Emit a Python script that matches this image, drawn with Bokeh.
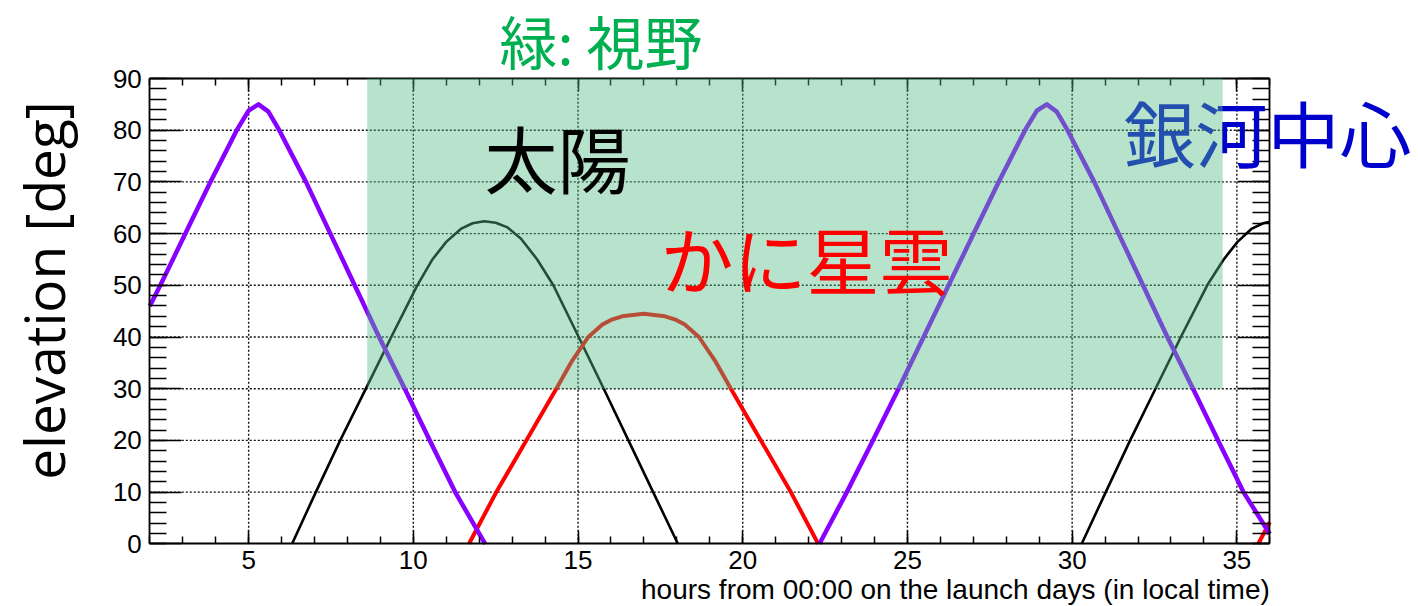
import math
from bokeh.plotting import figure
from bokeh.models import Range1d, LinearAxis, SingleIntervalTicker, BoxAnnotation, Label
from bokeh.embed import file_html
from bokeh.resources import INLINE

nan = float("nan")

# ---- data (hours, elevation in deg); NaN = below-horizon gap ----
gc_hours = [2.0, 2.32, 3.08, 3.84, 4.64, 5.0, 5.3, 5.6, 5.93, 6.74, 7.48, 8.22, 8.96, 9.74,
            10.5, 11.27, 12.18, nan,
            22.33, 23.16, 23.95, 24.73, 25.49, 26.25, 27.01, 27.77, 28.57, 28.93, 29.23, 29.53,
            29.86, 30.67, 31.41, 32.15, 32.89, 33.67, 34.43, 35.2, 36.0]
gc_elev = [46, 50, 60, 70, 80, 83.8, 85, 83.6, 80, 70, 60, 50, 40, 30,
           20, 10, 0, nan,
           0, 10, 20, 30, 40, 50, 60, 70, 80, 83.8, 85, 83.6,
           80, 70, 60, 50, 40, 30, 20, 10, 1.9]

sun_hours = [6.32, 7.04, 7.78, 8.56, 9.33, 10.12, 10.58, 11.0, 11.44, 11.8, 12.15, 12.5, 12.86,
             13.27, 13.76, 14.25, 15.02, 15.78, 16.53, 17.28, 18.03, nan,
             30.29, 31.02, 31.76, 32.53, 33.3, 34.1, 34.6, 35.02, 35.44, 35.8, 36.0]
sun_elev = [0, 10, 20, 30, 40, 50, 55, 58.4, 60.9, 62.0, 62.4, 62.1, 61.2,
            59.0, 55, 50, 40, 30, 20, 10, 0, nan,
            0, 10, 20, 30, 40, 50, 55, 58.4, 60.9, 62.0, 62.3]

crab_hours = [11.69, 12.52, 13.43, 14.34, 14.82, 15.31, 15.74, 16.0, 16.34, 16.99, 17.64, 17.98,
              18.24, 18.67, 19.16, 19.64, 20.55, 21.46, 22.29, nan, 35.65, 36.0]
crab_elev = [0, 10, 20, 30, 35.4, 40, 42.4, 43.3, 44.0, 44.5, 44.0, 43.3,
             42.4, 40, 35.4, 30, 20, 10, 0, nan, 0, 4.2]

# field of view region (green)
fov_start, fov_end = 8.6, 34.57
fov_min_elev, fov_max_elev = 30, 90

# axes
x_min, x_max = 2, 36
y_min, y_max = 0, 90
x_grid_ticks = [5, 10, 15, 20, 25, 30, 35]
y_grid_ticks = [10, 20, 30, 40, 50, 60, 70, 80]

x_title = "hours from 00:00 on the launch days (in local time)"
y_title = "elevation [deg]"

# ---- layout: the frame covers the whole canvas; the plot box is drawn by fixed axes ----
W, H = 1418, 606
box_left_px, box_right_px = 149.3, 1269.3
box_top_px, box_bottom_px = 78.0, 543.3
sx = (box_right_px - box_left_px) / (x_max - x_min)
sy = (box_bottom_px - box_top_px) / (y_max - y_min)
xr = Range1d(x_min - box_left_px / sx, x_max + (W - box_right_px) / sx)
yr = Range1d(y_min - (H - box_bottom_px) / sy, y_max + box_top_px / sy)


def dx(px):
    return xr.start + px / sx


def dy(py):
    return yr.end - py / sy


p = figure(width=W, height=H, x_range=xr, y_range=yr,
           output_backend="svg", toolbar_location=None,
           min_border_left=0, min_border_right=0, min_border_top=0, min_border_bottom=0)
p.background_fill_color = "white"
p.border_fill_color = "white"
p.outline_line_color = None
p.xgrid.visible = False
p.ygrid.visible = False

xt = SingleIntervalTicker(interval=5, num_minor_ticks=5)
yt = SingleIntervalTicker(interval=10, num_minor_ticks=5)
TICK_FONT = "Liberation Sans"


def style_axis(ax, ticker, tin, tmin, bounds, labels, standoff):
    ax.ticker = ticker
    ax.bounds = bounds
    ax.axis_line_color = "black"
    ax.axis_line_width = 1.8
    ax.major_tick_in = tin
    ax.major_tick_out = 0
    ax.minor_tick_in = tmin
    ax.minor_tick_out = 0
    ax.major_tick_line_width = 1.5
    ax.minor_tick_line_width = 1.5
    ax.major_tick_line_color = "black"
    ax.minor_tick_line_color = "black"
    ax.major_label_text_font = TICK_FONT
    ax.major_label_text_font_size = "26px" if labels else "0px"
    ax.major_label_text_color = "black"
    ax.major_label_standoff = standoff


bottom = p.xaxis[0]
style_axis(bottom, xt, 13, 7, (x_min, x_max), True, 7)
bottom.fixed_location = y_min
left = p.yaxis[0]
style_axis(left, yt, 32, 17, (y_min, y_max), True, 8)
left.fixed_location = x_min

top_ax = LinearAxis(fixed_location=y_max)
style_axis(top_ax, xt, 13, 7, (x_min, x_max), False, 0)
p.add_layout(top_ax, "above")
right_ax = LinearAxis(fixed_location=x_max)
style_axis(right_ax, yt, 32, 17, (y_min, y_max), False, 0)
p.add_layout(right_ax, "right")

# ---- dotted grid at the major ticks, limited to the plot box ----
p.segment(x0=x_grid_ticks, y0=[y_min] * len(x_grid_ticks), x1=x_grid_ticks, y1=[y_max] * len(x_grid_ticks),
          line_color="black", line_width=1.4, line_dash="2 2", line_alpha=0.95)
p.segment(x0=[x_min] * len(y_grid_ticks), y0=y_grid_ticks, x1=[x_max] * len(y_grid_ticks), y1=y_grid_ticks,
          line_color="black", line_width=1.4, line_dash="2 2", line_alpha=0.95)

# ---- curves ----
p.line(sun_hours, sun_elev, line_color="black", line_width=2.6, line_join="round")
p.line(crab_hours, crab_elev, line_color="#ff0000", line_width=4, line_join="round")
p.line(gc_hours, gc_elev, line_color="#8800ff", line_width=4.5, line_join="round")

CJK = "Noto Sans CJK JP"

# label drawn beneath the field-of-view overlay
p.add_layout(Label(x=dx(1123), y=dy(130), text="銀河中心", text_font=CJK, text_font_size="72px",
                   text_color="#0000cc", text_align="left", text_baseline="middle"))

p.add_layout(BoxAnnotation(left=fov_start, right=fov_end, bottom=fov_min_elev, top=fov_max_elev,
                           fill_color="#54bc86", fill_alpha=0.42, line_color=None))

# labels drawn on top of the overlay
p.add_layout(Label(x=dx(484), y=dy(155), text="太陽", text_font=CJK, text_font_size="73px",
                   text_color="black", text_align="left", text_baseline="middle"))
p.add_layout(Label(x=dx(660), y=dy(256), text="かに星雲", text_font=CJK, text_font_size="73px",
                   text_color="#ff0000", text_align="left", text_baseline="middle"))
p.add_layout(Label(x=dx(499), y=dy(39), text="緑: 視野", text_font=CJK, text_font_size="58px",
                   text_color="#00b050", text_align="left", text_baseline="middle"))

# axis titles
p.add_layout(Label(x=x_max, y=dy(589), text=x_title, text_font=TICK_FONT, text_font_size="28px",
                   text_color="black", text_align="right", text_baseline="middle"))
p.add_layout(Label(x=dx(43), y=dy(290), text=y_title, text_font="Open Sans", text_font_size="55px",
                   text_color="black", text_align="center", text_baseline="middle",
                   angle=math.pi / 2))

open("out.html", "w").write(file_html(p, INLINE))
